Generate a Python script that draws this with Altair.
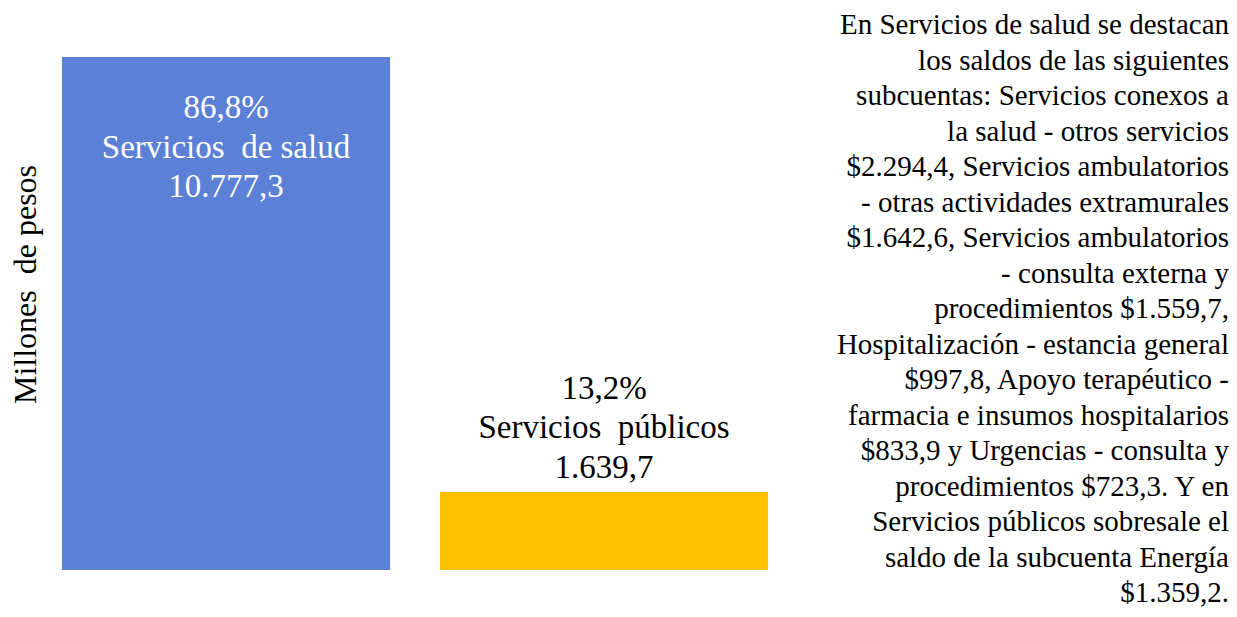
import altair as alt
import pandas as pd

NB = "\u00a0"
categories = ["Servicios " + NB + "de salud", "Servicios " + NB + "públicos"]
values = [10777.3, 1639.7]
value_labels = ["10.777,3", "1.639,7"]
percent_labels = ["86,8%", "13,2%"]
colors = ["#5B80D6", "#FFC000"]
axis_title = "Millones " + NB + "de pesos"
note_lines = [
    "En Servicios de salud se destacan",
    "los saldos de las siguientes",
    "subcuentas: Servicios conexos a",
    "la salud - otros servicios",
    "$2.294,4, Servicios ambulatorios",
    "- otras actividades extramurales",
    "$1.642,6, Servicios ambulatorios",
    "- consulta externa y",
    "procedimientos $1.559,7,",
    "Hospitalización - estancia general",
    "$997,8, Apoyo terapéutico -",
    "farmacia e insumos hospitalarios",
    "$833,9 y Urgencias - consulta y",
    "procedimientos $723,3. Y en",
    "Servicios públicos sobresale el",
    "saldo de la subcuenta Energía",
    "$1.359,2.",
]

FONT = "Liberation Serif"

df = pd.DataFrame({
    "cat": categories,
    "val": values,
    "label": [f"{p}\n{c}\n{v}" for p, c, v in zip(percent_labels, categories, value_labels)],
})

base = alt.Chart(df).encode(
    x=alt.X("cat:N", sort=categories, axis=None,
            scale=alt.Scale(paddingInner=0.132, paddingOuter=0.066)),
    y=alt.Y("val:Q", scale=alt.Scale(domain=[0, 10777.3], nice=False, zero=True),
            axis=alt.Axis(title=axis_title, grid=False, domain=False, ticks=False,
                          labels=False, titleFont=FONT, titleFontSize=32,
                          titleFontWeight="normal", titleColor="black",
                          titleX=-2, titleY=227, titleAngle=270,
                          titleBaseline="alphabetic", titleAlign="center")),
)

bars = base.mark_bar().encode(
    color=alt.Color("cat:N", scale=alt.Scale(domain=categories, range=colors), legend=None)
)

label_in = base.transform_filter(alt.datum.cat == categories[0]).mark_text(
    baseline="top", dy=35, lineBreak="\n", fontSize=33, lineHeight=39.5,
    font=FONT, color="white"
).encode(text="label:N")

label_out = base.transform_filter(alt.datum.cat == categories[1]).mark_text(
    baseline="bottom", dy=-86, lineBreak="\n", fontSize=33, lineHeight=39.5,
    font=FONT, color="black"
).encode(text="label:N")

note = alt.Chart(pd.DataFrame({"t": ["\n".join(note_lines)]})).mark_text(
    align="right", baseline="alphabetic", lineBreak="\n", fontSize=29, lineHeight=35.5,
    font=FONT, color="black"
).encode(x=alt.value(1192), y=alt.value(-23), text="t:N")

chart = alt.layer(bars, label_in, label_out, note).properties(
    width=756, height=513,
    autosize=alt.AutoSizeParams(type="none"),
    padding={"left": 29, "top": 49, "right": 436, "bottom": 39},
    background="white",
).configure_view(stroke=None)

chart.save("out.html", embed_options={"renderer": "svg", "actions": False})
